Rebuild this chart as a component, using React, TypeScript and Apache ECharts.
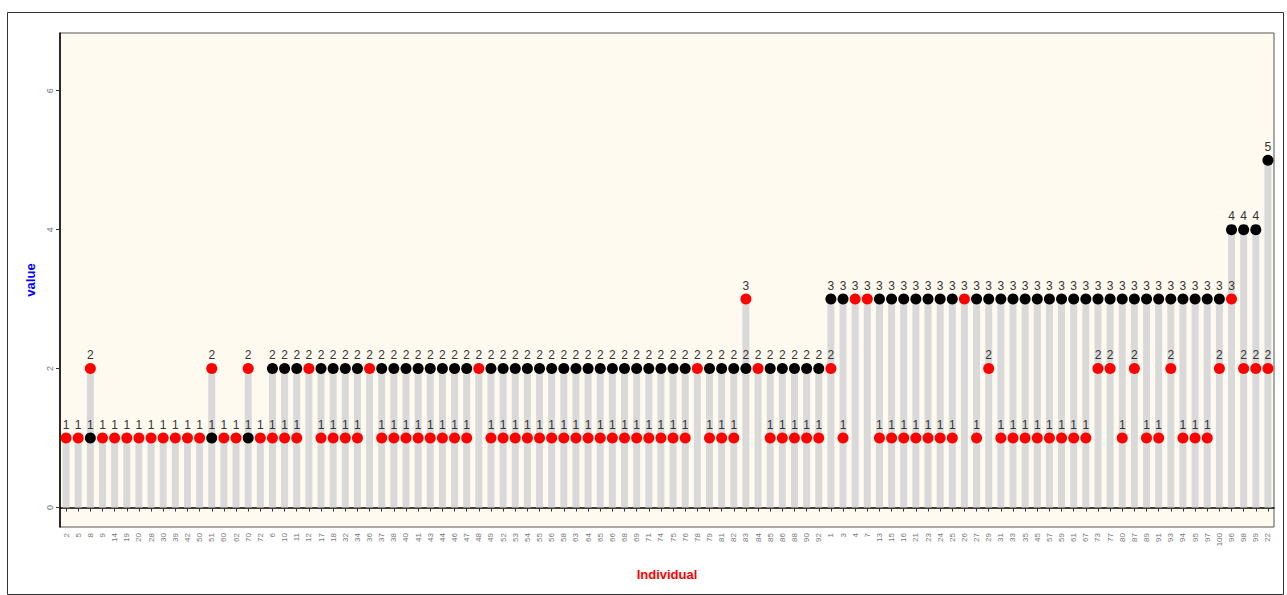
import React, { useEffect, useRef } from "react";
import * as echarts from "echarts";

const individuals: string[] = [
  "2", "5", "8", "9", "14", "19", "20", "28", "30", "39", "42", "50", "51", "60", "62", "70", "72",
  "6", "10", "11", "12", "17", "18", "32", "34", "36", "37", "38", "40", "41", "43", "44", "46", "47", "48", "49",
  "52", "53", "54", "55", "56", "58", "63", "64", "65", "66", "68", "69", "71", "74", "75", "76", "78", "79",
  "81", "82", "83", "84", "85", "86", "88", "90", "92",
  "1", "3", "4", "7", "13", "15", "16", "21", "23", "24", "25", "26", "27", "29", "31", "33", "35", "45",
  "57", "59", "61", "67", "73", "77", "80", "87", "89", "91", "93", "94", "95", "97", "100",
  "96", "98", "99", "22",
];

const redValues: (number | null)[] = [
  1, 1, 2, 1, 1, 1, 1, 1, 1, 1,
  1, 1, 2, 1, 1, 2, 1, 1, 1, 1,
  2, 1, 1, 1, 1, 2, 1, 1, 1, 1,
  1, 1, 1, 1, 2, 1, 1, 1, 1, 1,
  1, 1, 1, 1, 1, 1, 1, 1, 1, 1,
  1, 1, 2, 1, 1, 1, 3, 2, 1, 1,
  1, 1, 1, 2, 1, 3, 3, 1, 1, 1,
  1, 1, 1, 1, 3, 1, 2, 1, 1, 1,
  1, 1, 1, 1, 1, 2, 2, 1, 2, 1,
  1, 2, 1, 1, 1, 2, 3, 2, 2, 2,
];

const blackValues: (number | null)[] = [
  null, null, 1, null, null, null, null, null, null, null,
  null, null, 1, null, null, 1, null, 2, 2, 2,
  null, 2, 2, 2, 2, null, 2, 2, 2, 2,
  2, 2, 2, 2, null, 2, 2, 2, 2, 2,
  2, 2, 2, 2, 2, 2, 2, 2, 2, 2,
  2, 2, null, 2, 2, 2, 2, null, 2, 2,
  2, 2, 2, 3, 3, null, null, 3, 3, 3,
  3, 3, 3, 3, null, 3, 3, 3, 3, 3,
  3, 3, 3, 3, 3, 3, 3, 3, 3, 3,
  3, 3, 3, 3, 3, 3, 4, 4, 4, 5,
];

const yTicks: number[] = [0, 2, 4, 6];

export default function App() {
  const ref = useRef<HTMLDivElement>(null);

  useEffect(() => {
    if (!ref.current) return;
    const chart = echarts.init(ref.current, null, { renderer: "svg" });

    const barTops = individuals.map((_, i) =>
      Math.max(redValues[i] ?? 0, blackValues[i] ?? 0)
    );
    const toData = (arr: (number | null)[]) => arr.map((v) => (v == null ? "-" : v));

    const dotLabel = {
      show: true,
      position: "top" as const,
      distance: 2,
      color: "#333333",
      fontSize: 12,
      fontFamily: "Liberation Sans, Arial, sans-serif",
    };

    chart.setOption({
      animation: false,
      backgroundColor: "#ffffff",
      textStyle: { fontFamily: "Liberation Sans, Arial, sans-serif" },
      grid: {
        left: 60,
        right: 13,
        top: 33,
        bottom: 68,
        show: true,
        backgroundColor: "#FFFAF0",
        borderColor: "#555555",
        borderWidth: 1,
      },
      xAxis: {
        type: "category",
        data: individuals,
        boundaryGap: true,
        name: "Individual",
        nameLocation: "middle",
        nameGap: 41,
        nameTextStyle: { color: "#FF0000", fontWeight: "bold", fontSize: 13 },
        axisLine: { show: true, lineStyle: { color: "#000000", width: 1.5 } },
        axisTick: { show: true, alignWithLabel: true, interval: 0, length: 4, lineStyle: { color: "#333333" } },
        axisLabel: {
          interval: 0,
          rotate: 90,
          fontSize: 8,
          color: "#777777",
          margin: 6,
        },
        splitLine: { show: false },
      },
      yAxis: {
        type: "value",
        min: -0.28,
        max: 6.83,
        name: "value",
        nameLocation: "middle",
        nameGap: 22,
        nameRotate: 90,
        nameTextStyle: { color: "#0000FF", fontWeight: "bold", fontSize: 13 },
        axisLine: { show: true, lineStyle: { color: "#000000", width: 1.5 } },
        axisTick: { show: true, length: 4, customValues: yTicks, lineStyle: { color: "#333333" } },
        axisLabel: {
          customValues: yTicks,
          rotate: 90,
          fontSize: 9,
          color: "#777777",
          margin: 6,
        },
        splitLine: { show: false },
      },
      graphic: [
        {
          type: "rect",
          shape: { x: 7.5, y: 12.5, width: 1276, height: 582 },
          style: { fill: "none", stroke: "#333333", lineWidth: 1 },
          silent: true,
          z: -10,
        },
      ],
      series: [
        {
          type: "bar",
          data: barTops,
          barWidth: 7,
          itemStyle: { color: "#D9D9D9" },
          z: 1,
          silent: true,
        },
        {
          type: "scatter",
          data: toData(redValues),
          symbol: "circle",
          symbolSize: 11,
          itemStyle: { color: "#FF0000", opacity: 1 },
          label: dotLabel,
          z: 3,
        },
        {
          type: "scatter",
          data: toData(blackValues),
          symbol: "circle",
          symbolSize: 11,
          itemStyle: { color: "#000000", opacity: 1 },
          label: dotLabel,
          z: 3,
        },
      ],
    });

    return () => chart.dispose();
  }, []);

  return (
    <div
      ref={ref}
      style={{ position: "fixed", left: 0, top: 0, width: 1287, height: 595 }}
    />
  );
}
